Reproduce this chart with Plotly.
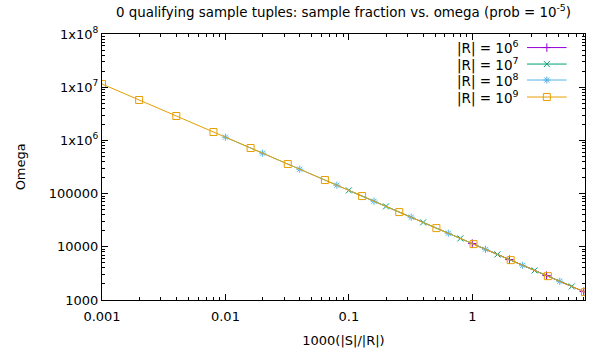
import plotly.graph_objects as go

# ---- data ----
x_r9 = [0.001, 0.002, 0.004, 0.008, 0.016, 0.032, 0.064, 0.128, 0.256, 0.512, 1.024, 2.048, 4.096, 8.192]
y_r9 = [11500000, 5750000, 2875000, 1437500, 718750, 359375, 179688, 89844, 44922, 22461, 11230, 5615, 2808, 1404]
x_r8 = [0.01, 0.02, 0.04, 0.08, 0.16, 0.32, 0.64, 1.28, 2.56, 5.12]
y_r8 = [1150000, 575000, 287500, 143750, 71875, 35938, 17969, 8984, 4492, 2246]
x_r7 = [0.1, 0.2, 0.4, 0.8, 1.6, 3.2, 6.4]
y_r7 = [115000, 57500, 28750, 14375, 7188, 3594, 1797]
x_r6 = [1, 2, 4, 8]
y_r6 = [11500, 5750, 2875, 1438]

series_names = ["|R| = 10<sup>6</sup>", "|R| = 10<sup>7</sup>", "|R| = 10<sup>8</sup>", "|R| = 10<sup>9</sup>"]
colors = ["#9400d3", "#009e73", "#56b4e9", "#e69f00"]
symbols = ["cross-thin-open", "x-thin-open", "asterisk-open", "square-open"]
sizes = [6, 6, 6, 7]
xs = [x_r6, x_r7, x_r8, x_r9]
ys = [y_r6, y_r7, y_r8, y_r9]

y_tickvals = [1000, 10000, 100000, 1e6, 1e7, 1e8]
y_ticktext = ["1000", "10000", "100000", "1x10<sup>6</sup>", "1x10<sup>7</sup>", "1x10<sup>8</sup>"]
x_tickvals = [0.001, 0.01, 0.1, 1]
x_ticktext = ["0.001", "0.01", "0.1", "1"]

FONT = "DejaVu Sans"
W, H = 595, 352
L, R, T, B = 102, 10, 34, 52

fig = go.Figure()
for name, c, s, sz, x, y in zip(series_names, colors, symbols, sizes, xs, ys):
    fig.add_trace(go.Scatter(
        x=x, y=y, mode="lines+markers", name=name, showlegend=False,
        line=dict(color=c, width=1),
        marker=dict(symbol=s, size=sz, color=c, line=dict(color=c, width=1)),
    ))

# custom legend (text then sample, gnuplot style) on an overlay axis in plot-fraction coords
leg_rows = [0.949, 0.887, 0.827, 0.763]
for name, c, s, sz, yy in zip(series_names, colors, symbols, sizes, leg_rows):
    fig.add_trace(go.Scatter(
        x=[0.880, 0.962], y=[yy, yy], xaxis="x2", yaxis="y2", mode="lines",
        line=dict(color=c, width=1), showlegend=False, hoverinfo="skip"))
    fig.add_trace(go.Scatter(
        x=[0.921], y=[yy], xaxis="x2", yaxis="y2", mode="markers",
        marker=dict(symbol=s, size=sz, color=c, line=dict(color=c, width=1)),
        showlegend=False, hoverinfo="skip"))
    fig.add_annotation(x=0.867, y=yy, xref="x2", yref="y2", text=name,
                       showarrow=False, xanchor="right", yanchor="middle",
                       font=dict(family=FONT, size=13.5, color="black"))

# y-axis title as a rotated annotation (exact placement)
fig.add_annotation(x=-0.169, y=0.5, xref="paper", yref="paper", text="Omega",
                   textangle=-90, showarrow=False, xanchor="center", yanchor="middle",
                   font=dict(family=FONT, size=13, color="black"))

axis_common = dict(
    type="log", showgrid=False, zeroline=False, showline=True, linecolor="black",
    linewidth=1, mirror="allticks", ticks="inside", ticklen=6, tickcolor="black",
    automargin=False,
    tickfont=dict(family=FONT, size=13, color="black"),
    minor=dict(ticks="inside", ticklen=3, tickcolor="black", dtick="D1", showgrid=False),
)

fig.update_layout(
    width=W, height=H,
    margin=dict(l=L, r=R, t=T, b=B, autoexpand=False),
    plot_bgcolor="white", paper_bgcolor="white",
    font=dict(family=FONT, size=13, color="black"),
    title=dict(text="0 qualifying sample tuples: sample fraction vs. omega (prob = 10<sup>-5</sup>)",
               x=0.5, xref="paper", xanchor="center", y=0.966, yanchor="middle",
               font=dict(family=FONT, size=13.4, color="black")),
    xaxis=dict(axis_common, range=[-3, 0.9134], tickvals=x_tickvals, ticktext=x_ticktext,
               ticklabelstandoff=4,
               title=dict(text="1000(|S|/|R|)", font=dict(family=FONT, size=13), standoff=13)),
    yaxis=dict(axis_common, range=[3, 8], tickvals=y_tickvals, ticktext=y_ticktext),
    xaxis2=dict(overlaying="x", range=[0, 1], visible=False, fixedrange=True),
    yaxis2=dict(overlaying="y", anchor="x2", range=[0, 1], visible=False, fixedrange=True),
)

fig.write_html("out.html", config={"displayModeBar": False},
               post_script="document.body.style.margin='0px';")
